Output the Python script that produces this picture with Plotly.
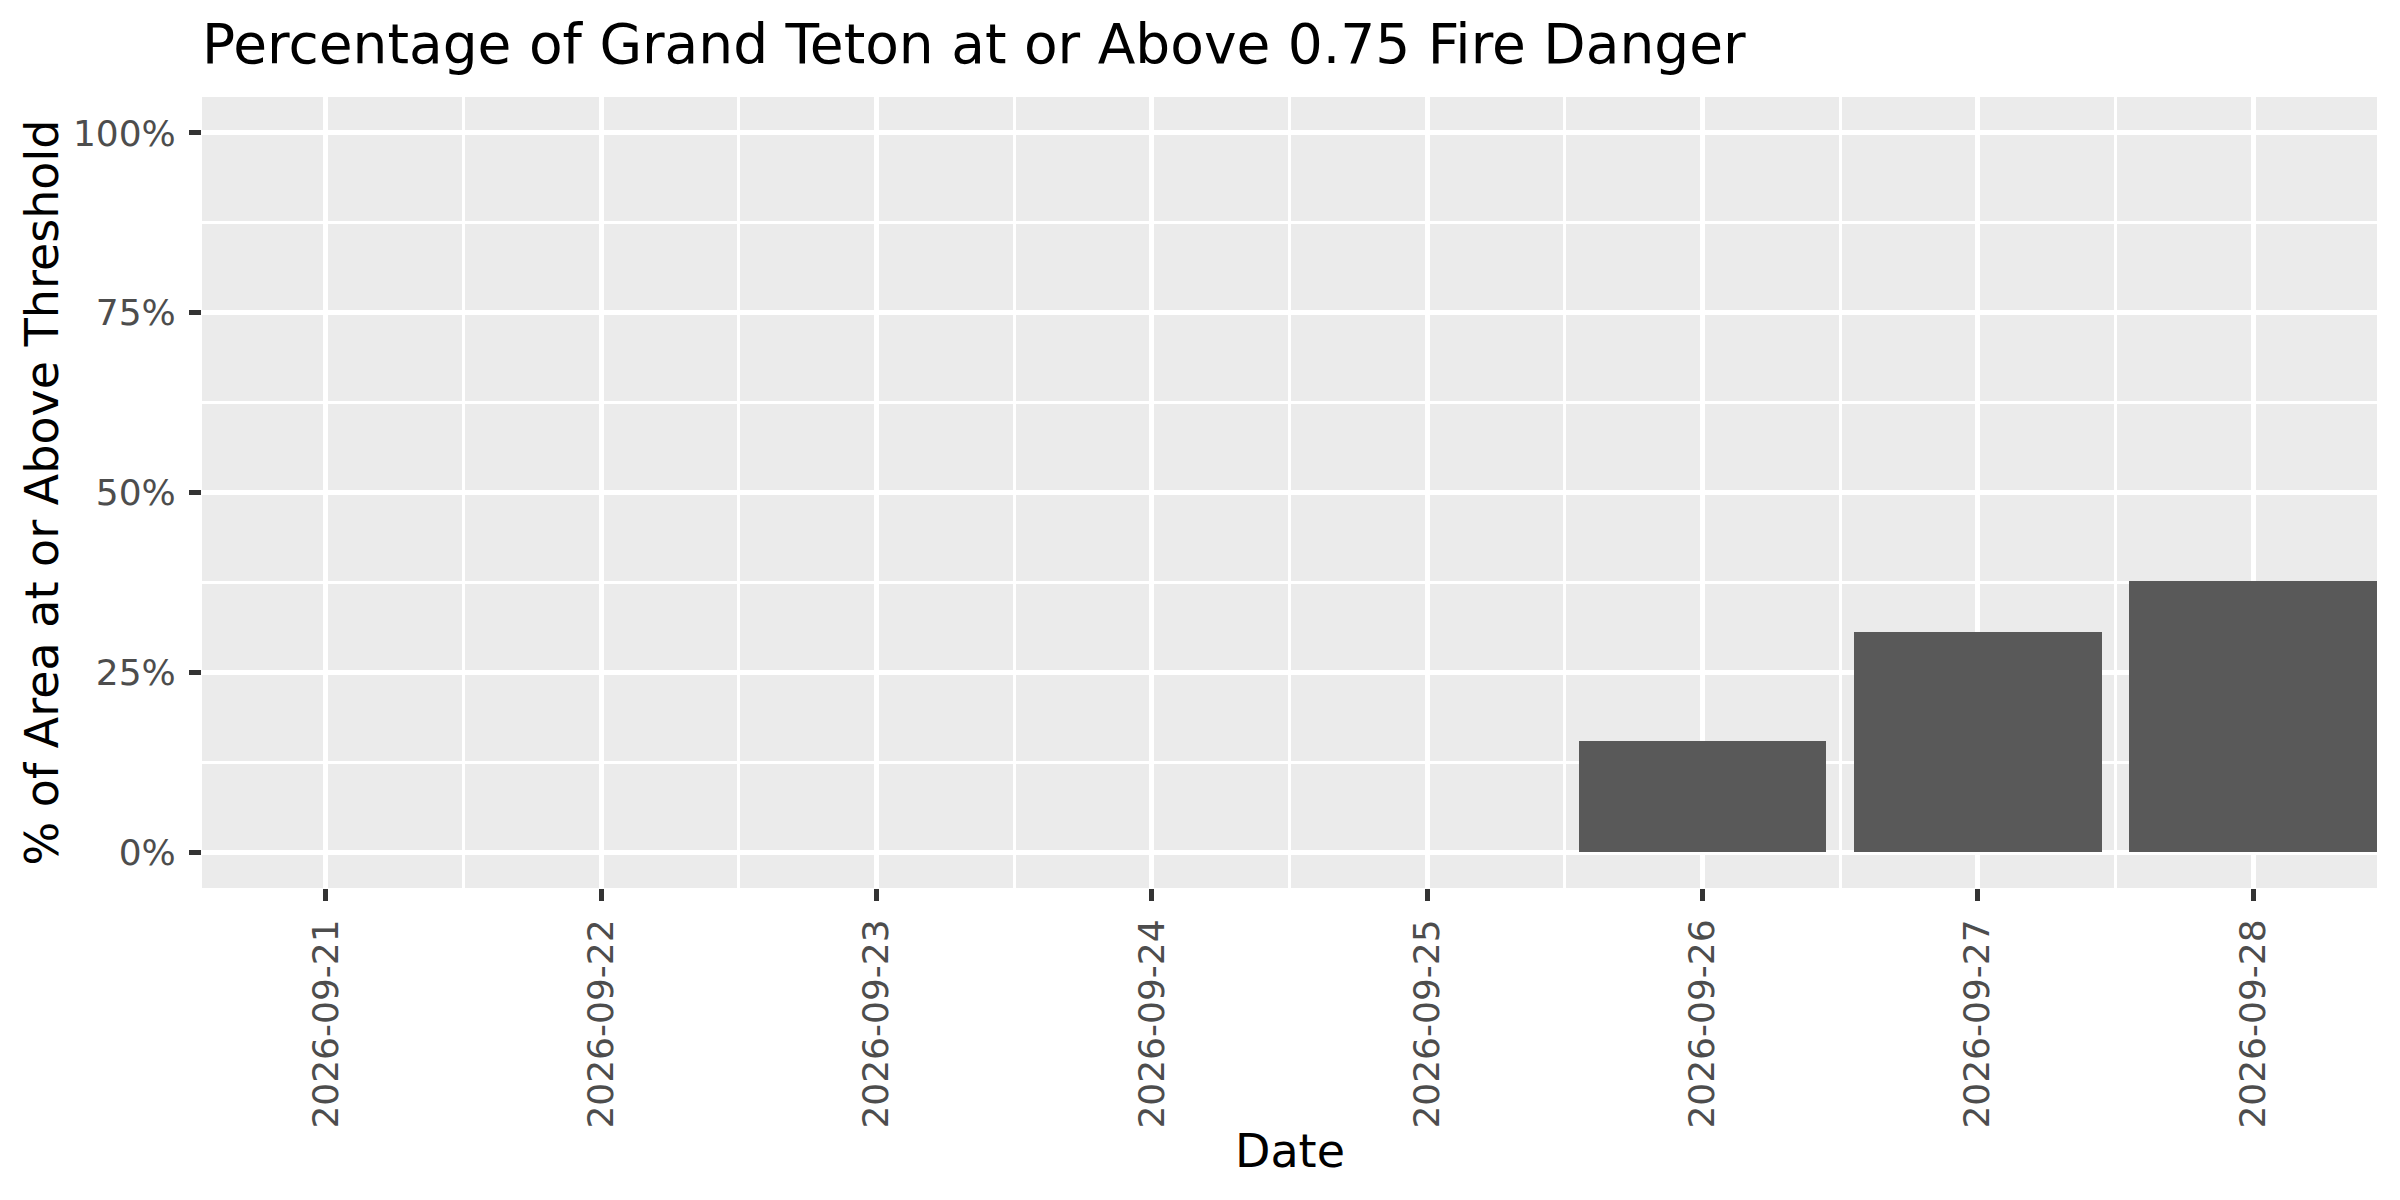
import pandas as pd
import plotly.graph_objects as go

# ---- data ----
dates = ["2026-09-21", "2026-09-22", "2026-09-23", "2026-09-24",
         "2026-09-25", "2026-09-26", "2026-09-27", "2026-09-28"]
pct_area = [0.0, 0.0, 0.0, 0.0, 0.0, 0.155, 0.306, 0.377]
y_ticks = [0, 0.25, 0.5, 0.75, 1.0]
y_tick_labels = ["0%", "25%", "50%", "75%", "100%"]

title_text = "Percentage of Grand Teton at or Above 0.75 Fire Danger"
x_title = "Date"
y_title = "% of Area at or Above Threshold"

FONT = "DejaVu Sans"
BAR = "#595959"
PANEL = "#EBEBEB"
TICKC = "#4D4D4D"

OFF = 8  # default page body margin in the browser
W, H = 2400, 1200
# desired panel edges in page pixels
P_L, P_R, P_T, P_B = 202, 2377, 97, 888
ML = P_L - OFF
MT = P_T - OFF
MR = W - (P_R - OFF)
MB = H - (P_B - OFF)
PW, PH = W - ML - MR, H - MT - MB

day_ms = 86400000
d = pd.to_datetime(dates)
x_lo = d.min() - pd.Timedelta(hours=0.45 * 24)
x_hi = d.max() + pd.Timedelta(hours=0.45 * 24)

fig = go.Figure()
fig.add_trace(go.Bar(
    x=d, y=pct_area, width=0.9 * day_ms,
    marker=dict(color=BAR, line=dict(width=0)),
    showlegend=False, hoverinfo="skip",
))

fig.update_layout(
    width=W, height=H,
    margin=dict(l=ML, r=MR, t=MT, b=MB, pad=0),
    paper_bgcolor="white",
    plot_bgcolor=PANEL,
    font=dict(family=FONT, color="black"),
    bargap=0,
    title=dict(
        text=title_text, font=dict(family=FONT, size=55, color="black"),
        xref="container", x=ML / W, xanchor="left",
        yref="container", y=1 - (44 - OFF) / H, yanchor="middle",
    ),
)

fig.update_xaxes(
    type="date",
    range=[x_lo, x_hi],
    tickvals=d, ticktext=[str(s) for s in dates],
    tickangle=-90,
    tickfont=dict(family=FONT, size=36, color=TICKC),
    ticks="outside", ticklen=12, tickwidth=4.5, tickcolor="#333333",
    ticklabelstandoff=4,
    showgrid=True, gridcolor="white", gridwidth=5,
    minor=dict(tick0=(d.min() - pd.Timedelta(hours=12)), dtick=day_ms,
               showgrid=True, gridcolor="white", gridwidth=2.5, ticks=""),
    showline=False, zeroline=False,
)

fig.update_yaxes(
    range=[-0.05, 1.05],
    tickvals=y_ticks, ticktext=y_tick_labels,
    tickfont=dict(family=FONT, size=36, color=TICKC),
    ticks="outside", ticklen=12, tickwidth=4.5, tickcolor="#333333",
    ticklabelstandoff=6,
    showgrid=True, gridcolor="white", gridwidth=5,
    minor=dict(tick0=0.125, dtick=0.25,
               showgrid=True, gridcolor="white", gridwidth=2.5, ticks=""),
    showline=False, zeroline=False,
)

fig.add_annotation(
    text=x_title, xref="paper", yref="paper",
    x=0.5, y=-(1151 - P_B) / PH,
    xanchor="center", yanchor="middle", showarrow=False,
    font=dict(family=FONT, size=46, color="black"),
)
fig.add_annotation(
    text=y_title, xref="paper", yref="paper",
    x=(41 - P_L) / PW, y=0.5, textangle=-90,
    xanchor="center", yanchor="middle", showarrow=False,
    font=dict(family=FONT, size=46, color="black"),
)

fig.write_html("out.html")
